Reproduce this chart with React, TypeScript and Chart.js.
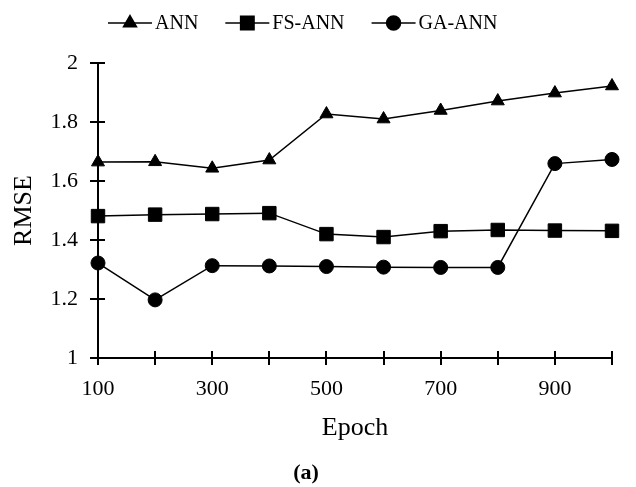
import React, { useEffect, useRef } from "react";
import { Chart, registerables } from "chart.js";
import { drawPoint } from "chart.js/helpers";

Chart.register(...registerables);

const epochs = [100, 200, 300, 400, 500, 600, 700, 800, 900, 1000];
const annValues = [1.664, 1.665, 1.643, 1.671, 1.827, 1.81, 1.839, 1.871, 1.898, 1.922];
const fsAnnValues = [1.481, 1.486, 1.488, 1.491, 1.42, 1.41, 1.43, 1.434, 1.432, 1.431];
const gaAnnValues = [1.322, 1.197, 1.313, 1.312, 1.31, 1.308, 1.307, 1.307, 1.659, 1.673];
const seriesNames = ["ANN", "FS-ANN", "GA-ANN"];
const seriesStyles = ["triangle", "rect", "circle"];
const seriesRadius = [7.5, 9.5, 7];
const xLabelled = [100, 300, 500, 700, 900];
const yMin = 1;
const yMax = 2;
const yStep = 0.2;
const xTitle = "Epoch";
const yTitle = "RMSE";
const figLabel = "(a)";

const FONT = '"Liberation Serif", "Times New Roman", serif';

const crossTicks = {
  id: "crossTicks",
  beforeDatasetsDraw(chart: any) {
    const { ctx, chartArea, scales } = chart;
    const xs = scales.x;
    const ys = scales.y;
    ctx.save();
    ctx.strokeStyle = "#000";
    ctx.lineWidth = 2;
    ctx.beginPath();
    xs.ticks.forEach((t: any) => {
      const px = Math.round(xs.getPixelForValue(t.value));
      ctx.moveTo(px, chartArea.bottom - 7);
      ctx.lineTo(px, chartArea.bottom + 7);
    });
    ys.ticks.forEach((t: any) => {
      const py = Math.round(ys.getPixelForValue(t.value));
      ctx.moveTo(chartArea.left - 8, py);
      ctx.lineTo(chartArea.left + 7, py);
    });
    ctx.stroke();
    ctx.restore();
  },
};

const customLegend = {
  id: "customLegend",
  afterDraw(chart: any) {
    const { ctx } = chart;
    ctx.save();
    ctx.font = `20px ${FONT}`;
    ctx.textBaseline = "middle";
    ctx.textAlign = "left";
    const y = 23;
    let x = 108;
    seriesNames.forEach((name, i) => {
      ctx.strokeStyle = "#000";
      ctx.fillStyle = "#000";
      ctx.lineWidth = 1.5;
      ctx.beginPath();
      ctx.moveTo(x, y);
      ctx.lineTo(x + 44, y);
      ctx.stroke();
      drawPoint(
        ctx,
        { pointStyle: seriesStyles[i], radius: seriesRadius[i], rotation: 0, borderWidth: 1 } as any,
        x + 22,
        y
      );
      ctx.fillStyle = "#000";
      ctx.fillText(name, x + 47, y + 1);
      const w = ctx.measureText(name).width;
      x += 47 + w + 27;
    });
    ctx.restore();
  },
};

export default function App() {
  const ref = useRef<HTMLCanvasElement | null>(null);

  useEffect(() => {
    document.body.style.margin = "0";
    if (!ref.current) return;
    const values = [annValues, fsAnnValues, gaAnnValues];
    const datasets = seriesNames.map((name, i) => ({
      label: name,
      data: epochs.map((e, j) => ({ x: e, y: values[i][j] })),
      borderColor: "#000",
      backgroundColor: "#000",
      borderWidth: 1.5,
      pointStyle: seriesStyles[i],
      pointRadius: seriesRadius[i],
      pointBorderWidth: 1,
      pointBackgroundColor: "#000",
      pointBorderColor: "#000",
      tension: 0,
      clip: false as any,
    }));
    const chart = new Chart(ref.current, {
      type: "line",
      data: { datasets },
      plugins: [crossTicks, customLegend],
      options: {
        animation: false,
        responsive: false,
        events: [],
        layout: { padding: { top: 63, right: 24, left: 0, bottom: 0 } },
        plugins: {
          legend: { display: false },
          tooltip: { enabled: false },
          title: {
            display: true,
            position: "bottom",
            text: figLabel,
            color: "#000",
            font: { family: FONT, size: 22, weight: "bold" },
            padding: { top: 0, bottom: 0 },
          },
        },
        scales: {
          x: {
            type: "linear",
            min: epochs[0],
            max: epochs[epochs.length - 1],
            grid: { display: false, drawTicks: false },
            border: { display: true, color: "#000", width: 2 },
            afterFit: (s: any) => {
              s.height = 102.6;
            },
            ticks: {
              stepSize: 100,
              padding: 18,
              color: "#000",
              maxRotation: 0,
              autoSkip: false,
              font: { family: FONT, size: 22 },
              callback: (v: any) => (xLabelled.includes(Number(v)) ? String(v) : ""),
            },
            title: {
              display: true,
              text: xTitle,
              color: "#000",
              font: { family: FONT, size: 26 },
              padding: { top: 0, bottom: 17 },
            },
          },
          y: {
            min: yMin,
            max: yMax,
            grid: { display: false, drawTicks: false },
            border: { display: true, color: "#000", width: 2 },
            afterFit: (s: any) => {
              s.width = 98;
            },
            ticks: {
              stepSize: yStep,
              padding: 20,
              color: "#000",
              font: { family: FONT, size: 22 },
              callback: (v: any) => String(Math.round(Number(v) * 10) / 10),
            },
            title: {
              display: true,
              text: yTitle,
              color: "#000",
              font: { family: FONT, size: 26 },
              padding: { top: 9, bottom: 0 },
            },
          },
        },
      },
    });
    return () => chart.destroy();
  }, []);

  return (
    <div style={{ width: 636, height: 487, background: "#fff" }}>
      <canvas ref={ref} width={636} height={487} style={{ display: "block" }} />
    </div>
  );
}
